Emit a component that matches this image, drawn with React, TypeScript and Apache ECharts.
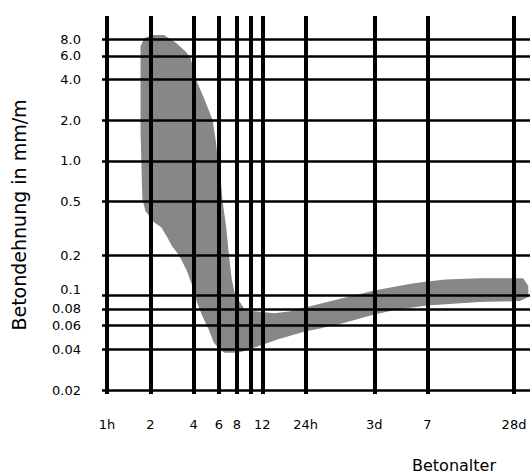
import React, { useEffect, useRef } from "react";
import * as echarts from "echarts";

// Vertical grid lines: concrete age in hours
const xTickHours = [1, 2, 4, 6, 8, 10, 12, 24, 72, 168, 672];
const xTickLabels = ["1h", "2", "4", "6", "8", "", "12", "24h", "3d", "7", "28d"];

// Horizontal grid lines: strain in mm/m
const yTickValues = [8, 6, 4, 2, 1, 0.5, 0.2, 0.1, 0.08, 0.06, 0.04, 0.02];
const yTickLabels = ["8.0", "6.0", "4.0", "2.0", "1.0", "0.5", "0.2", "0.1", "0.08", "0.06", "0.04", "0.02"];

// Outline of the grey band (age in hours, strain in mm/m)
const bandHours = [
  1.71, 1.82, 2.06, 2.49, 3.01, 3.53, 3.82, 4.07, 4.74, 5.42,
  5.7, 5.9, 6.18, 6.36, 6.73, 7.03, 7.34, 7.78, 8.53, 9.09,
  10.6, 12.4, 14.6, 18.8, 24, 44.7, 72, 129, 168, 225,
  386, 778, 844, 844, 741, 386, 166, 99.7, 72, 44.7,
  29.1, 24, 15.3, 11.1, 9.09, 8.13, 6.54, 6.09, 5.51, 5.07,
  4.58, 4.21, 4.0, 3.58, 3.16, 2.83, 2.61, 2.38, 2.13, 1.85,
  1.76, 1.71,
];
const bandStrain = [
  7.08, 8.13, 8.55, 8.55, 7.52, 6.44, 5.76, 4.2, 2.89, 2.0,
  1.4, 1.0, 0.705, 0.5, 0.322, 0.2, 0.135, 0.1, 0.0871, 0.0782,
  0.0767, 0.0753, 0.074, 0.0767, 0.082, 0.0967, 0.1094, 0.1225, 0.1274, 0.132,
  0.135, 0.135, 0.118, 0.098, 0.0912, 0.0897, 0.0845, 0.0782, 0.0726, 0.063,
  0.0566, 0.0546, 0.0474, 0.042, 0.0391, 0.0378, 0.0378, 0.0398, 0.045, 0.0566,
  0.0714, 0.0897, 0.111, 0.154, 0.2, 0.233, 0.274, 0.322, 0.349, 0.425,
  0.526, 1.66,
];

const FONT = "DejaVu Sans";

export default function App() {
  const ref = useRef<HTMLDivElement>(null);

  useEffect(() => {
    if (!ref.current) return;
    const chart = echarts.init(ref.current, undefined, { renderer: "svg" });

    const markData: any[] = [];
    xTickHours.forEach((h, i) => {
      markData.push({
        xAxis: h,
        lineStyle: { color: "#000", width: 4, type: "solid" },
        label: {
          show: xTickLabels[i] !== "",
          formatter: xTickLabels[i],
          position: "start",
          distance: 24,
          color: "#000",
          fontFamily: FONT,
          fontSize: 13,
        },
      });
    });
    yTickValues.forEach((v, i) => {
      markData.push({
        yAxis: v,
        lineStyle: { color: "#000", width: 2.5, type: "solid" },
        label: {
          show: true,
          formatter: yTickLabels[i],
          position: "start",
          distance: 21,
          color: "#000",
          fontFamily: FONT,
          fontSize: 13,
          lineHeight: 12,
          verticalAlign: yTickLabels[i] === "0.1" ? "bottom" : "middle",
        },
      });
    });

    const bandData = bandHours.map((h, i) => [h, bandStrain[i]]);

    chart.setOption({
      animation: false,
      backgroundColor: "#fff",
      grid: { left: 102, right: 0, top: 16, bottom: 81, containLabel: false },
      xAxis: {
        type: "log",
        logBase: 2,
        min: 0.9232,
        max: 867.9,
        axisLine: { show: false },
        axisTick: { show: false },
        axisLabel: { show: false },
        splitLine: { show: false },
      },
      yAxis: {
        type: "log",
        logBase: 10,
        min: 0.01868,
        max: 11.85,
        axisLine: { show: false },
        axisTick: { show: false },
        axisLabel: { show: false },
        splitLine: { show: false },
      },
      graphic: [
        {
          type: "text",
          x: 19,
          y: 215,
          rotation: Math.PI / 2,
          style: {
            text: "Betondehnung in mm/m",
            fontFamily: FONT,
            fontSize: 19,
            fill: "#000",
            align: "center",
            verticalAlign: "middle",
          },
        },
        {
          type: "text",
          x: 454,
          y: 465,
          style: {
            text: "Betonalter",
            fontFamily: FONT,
            fontSize: 16,
            fill: "#000",
            align: "center",
            verticalAlign: "middle",
          },
        },
      ],
      series: [
        {
          type: "custom",
          z: 2,
          clip: false,
          silent: true,
          data: bandData,
          encode: { x: 0, y: 1 },
          renderItem: (params: any, api: any) => {
            if (params.dataIndex !== 0) return null;
            const pts = bandHours.map((h, i) => api.coord([h, bandStrain[i]]));
            return {
              type: "polygon",
              shape: { points: pts, smooth: 0 },
              style: { fill: "#878787", stroke: "none" },
            };
          },
          markLine: {
            silent: true,
            symbol: "none",
            z: 5,
            data: markData,
          },
        },
      ],
    });

    return () => chart.dispose();
  }, []);

  return (
    <div
      ref={ref}
      style={{ position: "fixed", left: 0, top: 0, width: 530, height: 475 }}
    />
  );
}
